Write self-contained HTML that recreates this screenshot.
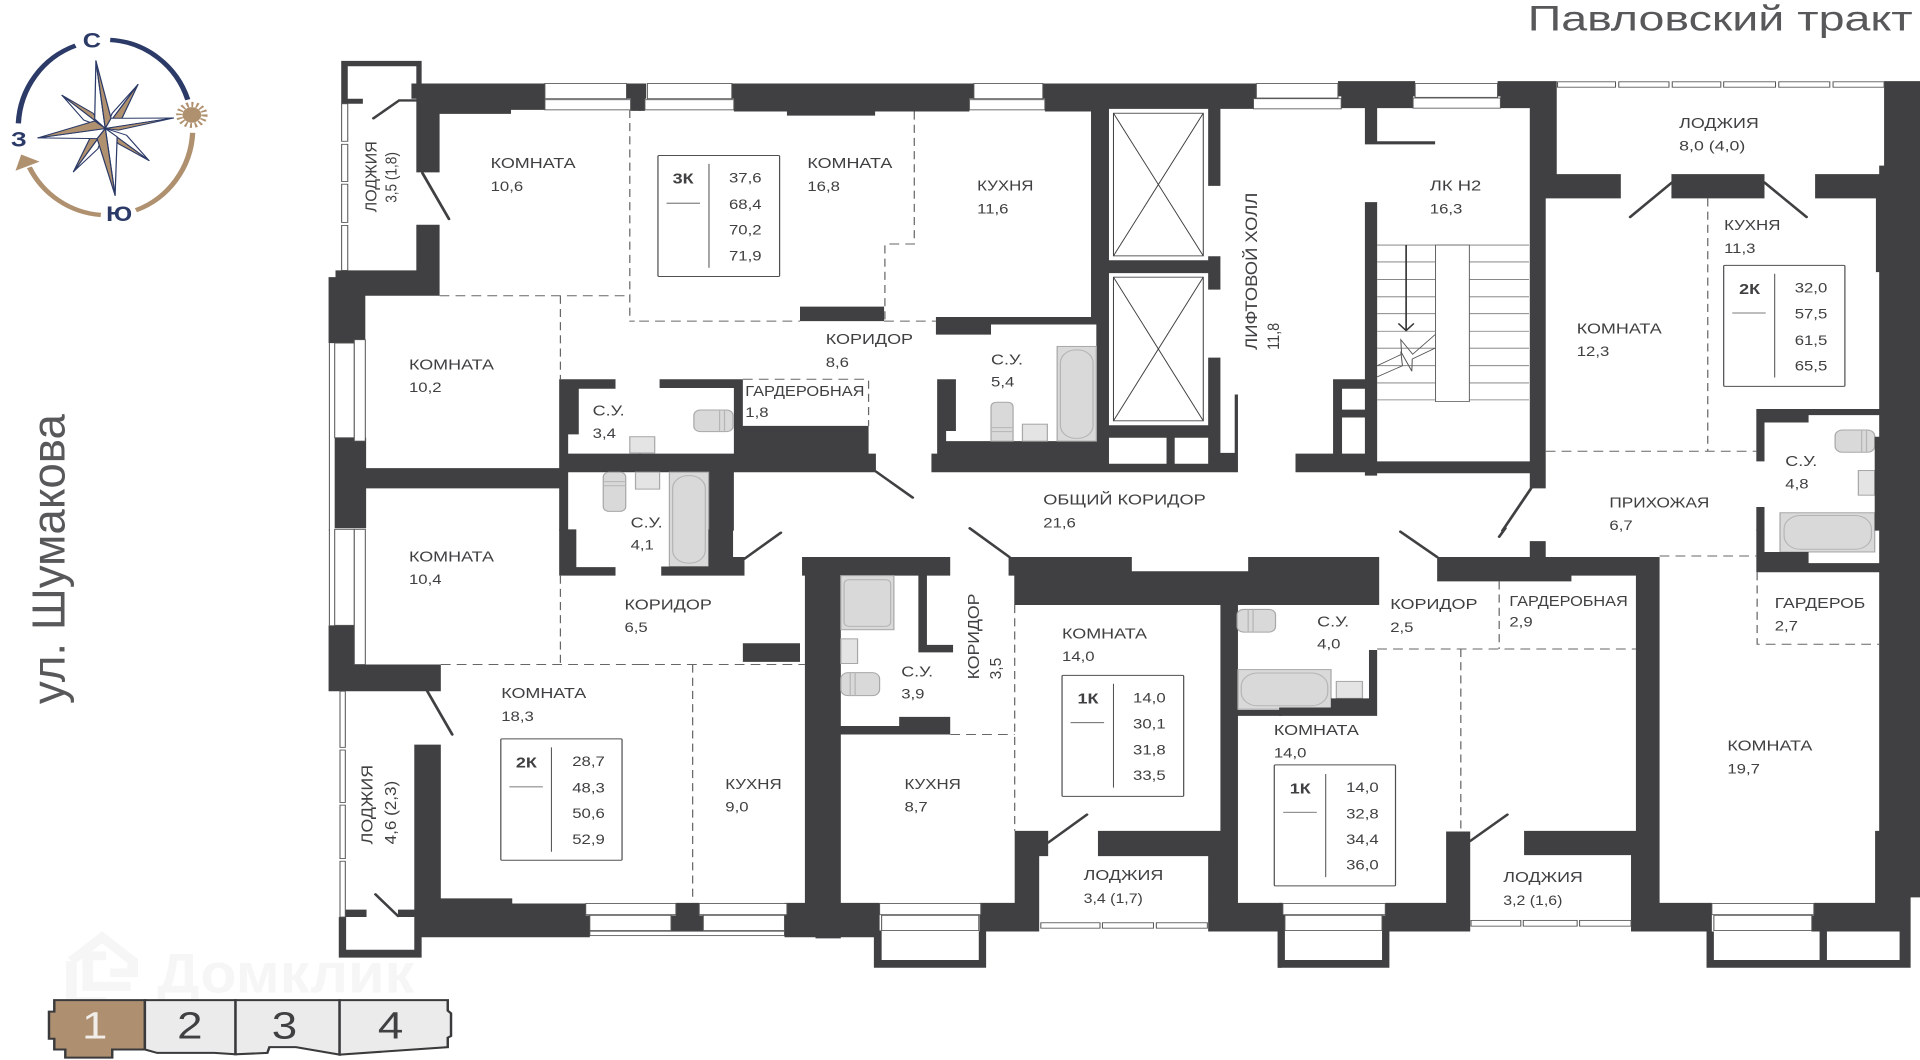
<!DOCTYPE html>
<html><head><meta charset="utf-8"><title>План этажа</title>
<style>
html,body{margin:0;padding:0;background:#fff;width:1920px;height:1060px;overflow:hidden}
svg{display:block}
text{font-family:"Liberation Sans",sans-serif;fill:#404042;font-size:44px}
.w{fill:#404042}
.win{fill:#fff;stroke:#555;stroke-width:2.5}
.d{fill:none;stroke:#666;stroke-width:3;stroke-dasharray:24 15}
.dr{fill:none;stroke:#404042;stroke-width:7;stroke-linecap:round}
.fx{fill:#d9d9d9;stroke:#a8a8a8;stroke-width:3}
.in{fill:none;stroke:#b5b5b5;stroke-width:3}
.ln{fill:none;stroke:#404042;stroke-width:2.5}
.bx{fill:#fff;stroke:#505052;stroke-width:3}
.b{font-weight:bold}
.n{font-size:41px}
.r{font-size:38px}
</style></head><body>
<svg width="1920" height="1060" viewBox="0 0 4704 3136" preserveAspectRatio="none" xmlns="http://www.w3.org/2000/svg">

<!-- zone 1 -->
<g>
<!-- compass -->
<g fill="none" stroke-width="13">
<path stroke="#2b3a67" d="M45 365A213 258 0 0 1 185 135"/>
<path stroke="#2b3a67" d="M270 118A213 258 0 0 1 460 295"/>
<path stroke="#b0916f" d="M472 393A213 258 0 0 1 333 622"/>
<path stroke="#b0916f" d="M247 636A213 258 0 0 1 72 495"/>
</g>
<polygon fill="#b0916f" points="38,505 52,457 97,478"/>
<g stroke="#2b3a67" stroke-width="3" stroke-linejoin="round">
<polygon fill="#fff" points="338,250 275,335 258,380"/><polygon fill="#b0916f" points="338,250 298,352 258,380"/>
<polygon fill="#fff" points="365,475 310,400 258,380"/><polygon fill="#b0916f" points="365,475 290,425 258,380"/>
<polygon fill="#fff" points="180,508 240,440 258,380"/><polygon fill="#b0916f" points="180,508 222,405 258,380"/>
<polygon fill="#fff" points="152,282 205,355 258,380"/><polygon fill="#b0916f" points="152,282 228,335 258,380"/>
<polygon fill="#fff" points="235,180 232,352 258,380"/><polygon fill="#b0916f" points="235,180 272,350 258,380"/>
<polygon fill="#fff" points="425,349 272,350 258,380"/><polygon fill="#b0916f" points="425,349 290,385 258,380"/>
<polygon fill="#fff" points="282,578 287,405 258,380"/><polygon fill="#b0916f" points="282,578 238,410 258,380"/>
<polygon fill="#fff" points="93,408 238,410 258,380"/><polygon fill="#b0916f" points="93,408 232,358 258,380"/>
</g>
<circle cx="470" cy="340" r="23" fill="#b0916f"/>
<circle cx="470" cy="340" r="31" fill="none" stroke="#b0916f" stroke-width="15" stroke-dasharray="5 7"/>
<text class="b" x="225" y="140" text-anchor="middle" style="font-size:62px;fill:#2b3a67">С</text>
<text class="b" x="46" y="434" style="font-size:62px;fill:#2b3a67" text-anchor="middle">З</text>
<text class="b" x="292" y="654" style="font-size:62px;fill:#2b3a67" text-anchor="middle">Ю</text>

<path class="w" d="M836 180H1033V250H1020V196H852V292H889V307H836Z M1008 247H1335V325H1252V337H1077V510H1020V292H1008Z M1020 665H1077V875H895V1015H805V820H822V800H1020Z M820 1295H897V1385H1370V1122H1508V1150H1418V1285H1392V1342H1570V1397H1392V1570H1370V1445H897V1563H820Z M1535 247H1570V328H1545V292H1535Z"/>
<rect class="win" x="1335" y="247" width="200" height="45"/>
<rect class="win" x="1335" y="295" width="210" height="30"/>
<rect class="win" x="837" y="307" width="15" height="111"/>
<rect class="win" x="837" y="427" width="15" height="110"/>
<rect class="win" x="837" y="545" width="15" height="113"/>
<rect class="win" x="837" y="667" width="15" height="133"/>
<rect class="win" x="820" y="1015" width="48" height="280"/>
<rect class="win" x="868" y="1005" width="27" height="300"/>
<path class="ln" d="M807 1015V1570" style="stroke:#555"/>
<path class="dr" d="M915 350L978 297H1020M1035 512L1100 648"/>
<path class="d" d="M1077 875H1543M1373 875V1122M1543 325V950H1555"/>
<rect class="fx" x="1478" y="1397" width="55" height="116" rx="14"/>
<path class="in" d="M1478 1425H1533M1478 1437H1533"/>
<text x="1202" y="497">КОМНАТА</text><text class="n" x="1202" y="565">10,6</text>
<text x="1002" y="1093">КОМНАТА</text><text class="n" x="1002" y="1160">10,2</text>
<text x="1452" y="1230">С.У.</text><text class="n" x="1452" y="1296">3,4</text>
<text class="r" transform="translate(922 628) rotate(-90)" textLength="210" lengthAdjust="spacingAndGlyphs">ЛОДЖИЯ</text>
<text class="r" transform="translate(972 600) rotate(-90)" textLength="150" lengthAdjust="spacingAndGlyphs">3,5 (1,8)</text>
<text transform="translate(158 2083) rotate(-90)" textLength="858" lengthAdjust="spacingAndGlyphs" style="font-size:113px;fill:#58585a">ул. Шумакова</text>
</g>

<!-- zone 2 -->
<g transform="translate(1568 0)">
<path class="w" d="M-2 247H15V292H12V328H-2Z M225 247H818V292H807V330H576V342H360V330H230V292H225Z M987 247H1510V292H1503V322H1149V330H992V292H987Z M1105 330H1149V938H1105Z M1118 938H1149V1397H1118Z M1149 770H1392V808H1149Z M1392 758H1422V857H1392Z M1392 322H1422V550H1392Z M1392 1058H1422V1372H1392Z M1149 1258H1392V1295H1149Z M1290 1295H1310V1372H1290Z M1149 1372H1465V1397H1149Z M1422 1340H1465V1397H1422Z M1457 1167H1465V1340H1457Z M725 938H1118V960H860V990H725Z M728 1122H774V1275H750V1305H1118V1397H714V1342H728Z M392 907H598V950H392Z M48 1122H252V1260H560V1342H578V1397H230V1570H168V1397H-2V1342H230V1148H48Z"/>
<rect class="win" x="18" y="247" width="207" height="45"/>
<rect class="win" x="12" y="295" width="218" height="30"/>
<rect class="win" x="818" y="247" width="169" height="45"/>
<rect class="win" x="807" y="295" width="185" height="30"/>
<g class="ln">
<rect x="1160" y="335" width="220" height="422"/><path d="M1160 335L1380 757M1380 335L1160 757"/>
<rect x="1160" y="820" width="220" height="425"/><path d="M1160 820L1380 1245M1380 820L1160 1245"/>
</g>
<path class="d" d="M-2 950H392M598 950H725M672 330V722H600V950M252 1122H560V1260"/>
<path class="dr" d="M578 1395L668 1472"/>
<rect class="fx" x="132" y="1213" width="96" height="64" rx="16"/>
<path class="in" d="M195 1213V1277M207 1213V1277"/>
<rect class="fx" x="-25" y="1292" width="61" height="48" style="fill:#e4e4e4"/>
<rect class="fx" x="-11" y="1397" width="59" height="50" style="fill:#e4e4e4"/>
<rect class="fx" x="72" y="1397" width="96" height="279"/>
<rect class="in" x="80" y="1407" width="80" height="259" rx="38"/>
<rect class="fx" x="1022" y="1025" width="96" height="280"/>
<rect class="in" x="1030" y="1035" width="80" height="262" rx="38"/>
<path class="fx" d="M860 1305V1205Q860 1190 875 1190H899Q914 1190 914 1205V1305Z"/>
<path class="in" d="M860 1265H914M860 1277H914"/>
<rect class="fx" x="937" y="1255" width="61" height="50" style="fill:#e4e4e4"/>
<rect class="bx" x="44" y="460" width="298" height="358" rx="3"/>
<path class="ln" d="M169 485V792M65 601H147" style="stroke:#505052"/>
<text class="b" x="80" y="543">3К</text>
<text class="n" x="218" y="540">37,6</text><text class="n" x="218" y="618">68,4</text><text class="n" x="218" y="694">70,2</text><text class="n" x="218" y="770">71,9</text>
<text x="410" y="497">КОМНАТА</text><text class="n" x="410" y="565">16,8</text>
<text x="826" y="564" textLength="138" lengthAdjust="spacingAndGlyphs">КУХНЯ</text><text class="n" x="826" y="631">11,6</text>
<text x="455" y="1018" textLength="214" lengthAdjust="spacingAndGlyphs">КОРИДОР</text><text class="n" x="455" y="1086">8,6</text>
<text x="860" y="1078">С.У.</text><text class="n" x="860" y="1143">5,4</text>
<text x="258" y="1172" textLength="292" lengthAdjust="spacingAndGlyphs">ГАРДЕРОБНАЯ</text><text class="n" x="258" y="1233">1,8</text>
<text x="988" y="1493" textLength="398" lengthAdjust="spacingAndGlyphs">ОБЩИЙ КОРИДОР</text><text class="n" x="988" y="1560">21,6</text>
<text transform="translate(1512 1035) rotate(-90)" textLength="465" lengthAdjust="spacingAndGlyphs" style="font-size:40px">ЛИФТОВОЙ ХОЛЛ</text>
<text transform="translate(1566 1035) rotate(-90)" textLength="80" lengthAdjust="spacingAndGlyphs" style="font-size:40px">11,8</text>
<text x="-23" y="1560">С.У.</text>
</g>

<!-- zone 3 -->
<g transform="translate(3136 0)">
<rect class="fx" x="1360" y="1272" width="97" height="66" rx="18"/>
<path class="in" d="M1425 1272V1338M1437 1272V1338"/>
<rect class="fx" x="1417" y="1392" width="40" height="73" style="fill:#e4e4e4"/>
<rect class="fx" x="1225" y="1517" width="232" height="116"/>
<rect class="in" x="1235" y="1525" width="214" height="100" rx="40"/>
<path class="w" d="M142 240H331V285H326V320H238V418H380V427H208V320H150V285H142Z M533 240H678V515H835V587H651V1445H612V320H540V285H533Z M208 598H238V1407H208Z M238 1365H612V1400H238Z M38 1342H238V1397H38Z M959 515H1187V587H959Z M1311 515H1480V587H1311Z M1468 490H1480V515H1468Z M1480 240H1570V1570H1468V805H1460V587H1480Z M152 1212H208V1235H152Z M130 1122H208V1150H152V1342H130Z M1167 1210H1468V1228H1295V1250H1187V1365H1167Z M1167 1500H1187V1570H1167Z M1457 1292H1468V1570H1457Z"/>
<g class="win">
<rect x="-58" y="247" width="200" height="43"/>
<rect x="-65" y="292" width="215" height="30"/>
<rect x="331" y="247" width="202" height="41"/>
<rect x="326" y="290" width="214" height="30"/>
<rect x="680" y="242" width="142" height="16"/>
<rect x="830" y="242" width="123" height="16"/>
<rect x="961" y="242" width="119" height="16"/>
<rect x="1087" y="242" width="127" height="16"/>
<rect x="1222" y="242" width="125" height="16"/>
<rect x="1355" y="242" width="125" height="16"/>
</g>
<path class="dr" d="M960 540L858 642M1187 540L1290 642M615 1445L545 1570"/>
<path d="M238 725H610M238 775H610M238 827H610M238 878H610M238 928H610M238 980H610M238 1030H610M238 1082H610M238 1133H610M238 1183H610" stroke="#777" stroke-width="2.5" fill="none"/>
<rect x="381" y="725" width="83" height="463" fill="#fff" stroke="#666" stroke-width="2.5"/>
<path d="M309 725V978M290 957L309 978L328 957" fill="none" stroke="#333" stroke-width="4"/>
<polyline points="238,1082 298,1048 296,1005 325,1048 380,990" fill="none" stroke="#555" stroke-width="2.5"/>
<polyline points="238,1115 300,1082 296,1040 323,1098 324,1062 380,1030" fill="none" stroke="#555" stroke-width="2.5"/>
<path class="d" d="M1048 587V1335M651 1335H1167"/>
<rect class="bx" x="1087" y="785" width="297" height="358" rx="3"/>
<path class="ln" d="M1212 810V1117M1108 926H1190" style="stroke:#505052"/>
<text class="b" x="1125" y="870">2К</text>
<text class="n" x="1261" y="866">32,0</text><text class="n" x="1261" y="943">57,5</text><text class="n" x="1261" y="1020">61,5</text><text class="n" x="1261" y="1096">65,5</text>
<text x="978" y="378" textLength="195" lengthAdjust="spacingAndGlyphs">ЛОДЖИЯ</text><text class="n" x="978" y="445" textLength="162" lengthAdjust="spacingAndGlyphs">8,0 (4,0)</text>
<text x="367" y="564" textLength="126" lengthAdjust="spacingAndGlyphs">ЛК Н2</text><text class="n" x="367" y="631">16,3</text>
<text x="1088" y="680" textLength="138" lengthAdjust="spacingAndGlyphs">КУХНЯ</text><text class="n" x="1088" y="748">11,3</text>
<text x="727" y="987">КОМНАТА</text><text class="n" x="727" y="1054">12,3</text>
<text x="1238" y="1378">С.У.</text><text class="n" x="1238" y="1445">4,8</text>
<text x="807" y="1502" textLength="245" lengthAdjust="spacingAndGlyphs">ПРИХОЖАЯ</text><text class="n" x="807" y="1568">6,7</text>
<text x="607" y="90" textLength="943" lengthAdjust="spacingAndGlyphs" style="font-size:105px;fill:#58585a">Павловский тракт</text>
</g>

<!-- zone 4 -->
<g transform="translate(0 1568)">
<!-- watermark -->
<path d="M175 1275L250 1205L325 1275V1310H270M175 1275V1395H260M260 1260H215V1350H320" fill="none" stroke="#f6f6f6" stroke-width="26"/>
<text class="b" x="385" y="1368" textLength="630" lengthAdjust="spacingAndGlyphs" style="font-size:165px;fill:#f6f6f6">Домклик</text>
<path class="w" d="M805 282H870V398H1080V477H805Z M1370 -2H1412V110H1508V135H1370Z M1015 635H1080V1090H1255V1105H1435V1140H1445V1205H1033V1265H830V1145H848V1242H1015Z M846 1123H898V1145H846Z M975 1123H1015V1145H975Z"/>
<rect class="win" x="820" y="-2" width="48" height="284"/>
<rect class="win" x="868" y="-2" width="27" height="400"/>
<path class="ln" d="M807 -2V282" style="stroke:#555"/>
<g class="win">
<rect x="833" y="477" width="13" height="166"/>
<rect x="833" y="651" width="13" height="155"/>
<rect x="833" y="814" width="13" height="158"/>
<rect x="833" y="980" width="13" height="165"/>
</g>
<path class="dr" d="M975 1142L920 1078M1047 477L1108 605"/>
<path class="d" d="M1080 398H1570M1373 135V398"/>
<rect class="bx" x="1227" y="618" width="297" height="359" rx="3"/>
<path class="ln" d="M1351 643V952M1248 760H1330" style="stroke:#505052"/>
<text class="b" x="1264" y="703">2К</text>
<text class="n" x="1402" y="698">28,7</text><text class="n" x="1402" y="776">48,3</text><text class="n" x="1402" y="852">50,6</text><text class="n" x="1402" y="929">52,9</text>
<text x="1002" y="93">КОМНАТА</text><text class="n" x="1002" y="160">10,4</text>
<text x="1228" y="497">КОМНАТА</text><text class="n" x="1228" y="565">18,3</text>
<text x="1530" y="235" textLength="214" lengthAdjust="spacingAndGlyphs">КОРИДОР</text><text class="n" x="1530" y="302">6,5</text>
<text class="n" x="1545" y="58">4,1</text>
<text class="r" transform="translate(913 930) rotate(-90)" textLength="235" lengthAdjust="spacingAndGlyphs">ЛОДЖИЯ</text>
<text class="r" transform="translate(970 930) rotate(-90)" textLength="188" lengthAdjust="spacingAndGlyphs">4,6 (2,3)</text>
<!-- floor selector -->
<g stroke="#3a3a3c" stroke-width="6" stroke-linejoin="miter">
<path fill="#ae9070" d="M133 1391H355V1537H275V1561H160V1537H133V1505H120V1425H133Z"/>
<path fill="#ebebeb" d="M355 1391H577V1551L525 1547H385L355 1537Z"/>
<path fill="#ebebeb" d="M577 1391H832V1552L725 1530H660L655 1547L577 1551Z"/>
<path fill="#ebebeb" d="M832 1391H1097V1422L1105 1430V1497L1097 1502V1530L832 1552Z"/>
</g>
<g text-anchor="middle">
<text x="232" y="1505" style="font-size:112px;fill:#f1ede8">1</text>
<text x="465" y="1505" style="font-size:112px;fill:#404042">2</text>
<text x="697" y="1505" style="font-size:112px;fill:#404042">3</text>
<text x="957" y="1505" style="font-size:112px;fill:#404042">4</text>
</g>
</g>

<!-- zone 5 -->
<g transform="translate(1568 1568)">
<path class="w" d="M168 -2H228V80H256V135H52V108H168Z M397 80H760V135H703V340H767V362H682V135H492V580H635V553H760V605H492V1103H587V1205H492V1208H430V1205H354V1103H404V135H397Z M252 335H392V390H252Z M903 80H1205V122H1490V80H1572V222H1465V1103H1572V1188H1392V965H1122V890H1422V222H917V135H903Z M918 890H1000V965H978V1188H832V1103H918Z M88 1103H145V1140H155V1188H76V1140H88Z M573 1185H592V1272H830V1187H848V1295H573Z M1465 532H1572V550H1465Z M1562 1188H1572V1295H1562Z"/>
<g class="win">
<rect x="-133" y="1105" width="221" height="33"/>
<rect x="145" y="1105" width="215" height="33"/>
<rect x="-123" y="1140" width="199" height="45"/>
<rect x="155" y="1140" width="199" height="45"/>
<rect x="-123" y="1187" width="477" height="13"/>
<rect x="587" y="1105" width="248" height="33"/>
<rect x="592" y="1140" width="238" height="45"/>
<rect x="982" y="1162" width="145" height="16"/>
<rect x="1133" y="1162" width="125" height="16"/>
<rect x="1265" y="1162" width="125" height="16"/>
</g>
<path class="dr" d="M256 85L345 8M905 80L808 -5M1000 925L1095 842"/>
<path class="d" d="M-2 398H404M129 398V1085M760 605H918M918 222V890"/>
<rect class="fx" x="492" y="135" width="130" height="160"/>
<rect class="in" x="500" y="147" width="114" height="138" rx="12"/>
<rect class="fx" x="492" y="322" width="41" height="73" style="fill:#e4e4e4"/>
<rect class="fx" x="492" y="422" width="95" height="68" rx="18"/>
<path class="in" d="M515 422V490M527 422V490"/>
<rect class="fx" x="1463" y="235" width="94" height="67" rx="16"/>
<path class="in" d="M1490 235V302M1502 235V302"/>
<rect class="bx" x="1034" y="430" width="298" height="358" rx="3"/>
<path class="ln" d="M1160 455V762M1055 570H1137" style="stroke:#505052"/>
<text class="b" x="1072" y="514">1К</text>
<text class="n" x="1208" y="510">14,0</text><text class="n" x="1208" y="588">30,1</text><text class="n" x="1208" y="664">31,8</text><text class="n" x="1208" y="740">33,5</text>
<text x="209" y="766" textLength="138" lengthAdjust="spacingAndGlyphs">КУХНЯ</text><text class="n" x="209" y="833">9,0</text>
<text x="648" y="766" textLength="138" lengthAdjust="spacingAndGlyphs">КУХНЯ</text><text class="n" x="648" y="833">8,7</text>
<text x="640" y="433">С.У.</text><text class="n" x="640" y="498">3,9</text>
<text x="1034" y="321">КОМНАТА</text><text class="n" x="1034" y="388">14,0</text>
<text x="1087" y="1036" textLength="195" lengthAdjust="spacingAndGlyphs">ЛОДЖИЯ</text><text class="n" x="1087" y="1103" textLength="145" lengthAdjust="spacingAndGlyphs">3,4 (1,7)</text>
<text class="r" transform="translate(830 442) rotate(-90)" textLength="254" lengthAdjust="spacingAndGlyphs">КОРИДОР</text>
<text class="r" transform="translate(885 442) rotate(-90)" textLength="64" lengthAdjust="spacingAndGlyphs">3,5</text>
<text x="1553" y="607">КОМНАТА</text><text class="n" x="1553" y="673">14,0</text>
</g>

<!-- zone 6 -->
<g transform="translate(3136 1568)">
<rect class="fx" x="-103" y="413" width="228" height="117"/>
<rect class="in" x="-95" y="423" width="212" height="97" rx="40"/>
<rect class="fx" x="138" y="448" width="64" height="50" style="fill:#e4e4e4"/>
<path class="w" d="M-2 80H243V222H-2Z M385 80H612V33H651V80H930V1103H1058V1188H860V962H598V890H872V135H714V152H385Z M218 355H238V550H-2V525H125V498H218Z M1468 -2H1572V1087H1545V1188H1308V1103H1458V890H1468Z M1167 -2H1187V65H1295V98H1468V125H1167Z M407 892H466V1188H407Z M258 1103H407V1188H258Z M250 1140H268V1295H250Z M-4 1272H250V1295H-4Z M-2 1103H7V1140H-2Z M-4 1138H12V1295H-4Z M1045 1188H1063V1272H1322V1188H1340V1272H1518V1188H1545V1295H1045Z M1302 1140H1340V1188H1302Z"/>
<g class="win">
<rect x="7" y="1105" width="251" height="33"/>
<rect x="12" y="1140" width="238" height="45"/>
<rect x="468" y="1155" width="122" height="17"/>
<rect x="596" y="1155" width="132" height="17"/>
<rect x="734" y="1155" width="126" height="17"/>
<rect x="1058" y="1105" width="250" height="33"/>
<rect x="1063" y="1140" width="240" height="45"/>
</g>
<path class="dr" d="M466 920L557 842M385 80L295 5M537 20L552 -5"/>
<path class="d" d="M930 77H1167M1169 125V338H1468M238 352H872M443 352V892M537 152V352"/>
<rect class="bx" x="-14" y="695" width="297" height="358" rx="3"/>
<path class="ln" d="M112 722V1027M8 835H90" style="stroke:#505052"/>
<text class="b" x="24" y="779">1К</text>
<text class="n" x="162" y="775">14,0</text><text class="n" x="162" y="853">32,8</text><text class="n" x="162" y="929">34,4</text><text class="n" x="162" y="1005">36,0</text>
<text x="91" y="285">С.У.</text><text class="n" x="91" y="351">4,0</text>
<text x="270" y="234" textLength="214" lengthAdjust="spacingAndGlyphs">КОРИДОР</text><text class="n" x="270" y="302">2,5</text>
<text x="562" y="225" textLength="290" lengthAdjust="spacingAndGlyphs">ГАРДЕРОБНАЯ</text><text class="n" x="562" y="286">2,9</text>
<text x="1212" y="231" textLength="222" lengthAdjust="spacingAndGlyphs">ГАРДЕРОБ</text><text class="n" x="1212" y="298">2,7</text>
<text x="1096" y="653">КОМНАТА</text><text class="n" x="1096" y="720">19,7</text>
<text x="547" y="1042" textLength="195" lengthAdjust="spacingAndGlyphs">ЛОДЖИЯ</text><text class="n" x="547" y="1110" textLength="145" lengthAdjust="spacingAndGlyphs">3,2 (1,6)</text>
</g>
</svg>
</body></html>
